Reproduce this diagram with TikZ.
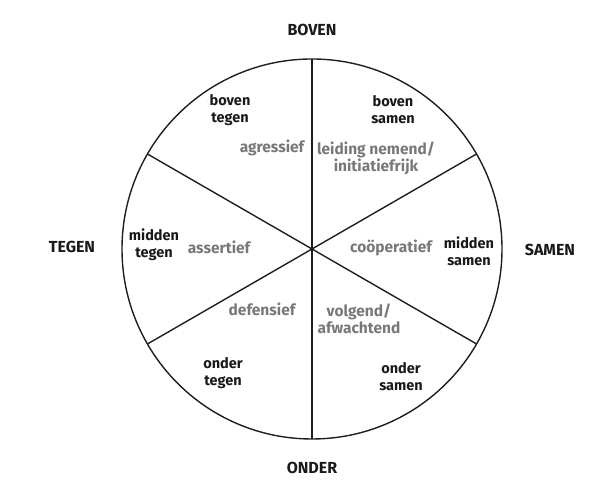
\documentclass[tikz,border=0pt]{standalone}
\usepackage{fontspec}
\setmainfont{Fira Sans}
\usepackage{xcolor}
\usepackage{tikz}
\usetikzlibrary{positioning, calc}
\definecolor{rosegray}{RGB}{120, 120, 120}
\definecolor{roseline}{RGB}{30, 30, 30}

\begin{document}
\begin{tikzpicture}[
  x=1pt, y=1pt,
  every node/.style={font=\fontsize{15}{17}\selectfont, inner sep=0pt},
  axis/.style={font=\fontsize{16}{18}\selectfont\bfseries, text=black!90},
  sector/.style={font=\fontsize{14.5}{17}\selectfont\bfseries, align=center, text=black!90},
  trait/.style={font=\fontsize{15.5}{17}\selectfont\bfseries, align=center, text=rosegray},
  spoke/.style={draw=roseline, line width=1.4pt}
]
  \useasboundingbox (0,0) rectangle (603,489);

  % the rose
  \coordinate (centre) at (312,240);
  \draw[spoke] (centre) circle (190);
  \coordinate (top) at ($(centre)+(90:190)$);
  \coordinate (bottom) at ($(centre)+(270:190)$);
  \coordinate (upleft) at ($(centre)+(150:190)$);
  \coordinate (upright) at ($(centre)+(30:190)$);
  \coordinate (lowleft) at ($(centre)+(210:190)$);
  \coordinate (lowright) at ($(centre)+(330:190)$);
  \draw[spoke] (top) -- (bottom);
  \draw[spoke] (upleft) -- (lowright);
  \draw[spoke] (upright) -- (lowleft);

  % axes
  \node[axis] (boven) at (312,459) {BOVEN};
  \node[axis] (onder) at (312,21) {ONDER};
  \node[axis] (tegen) at (72,242) {TEGEN};
  \node[axis] (samen) at (550,239) {SAMEN};

  % sectors
  \node[sector] (boventegen) at (230,379) {boven\\tegen};
  \node[sector] (bovensamen) at (393,379) {boven\\samen};
  \node[sector] (middentegen) at (154,244) {midden\\tegen};
  \node[sector] (middensamen) at (469,238) {midden\\samen};
  \node[sector] (ondertegen) at (223,116) {onder\\tegen};
  \node[sector] (ondersamen) at (401,112) {onder\\samen};

  % behaviour
  \node[trait] (agressief) at (272,341) {agressief};
  \node[trait] (leiding) at (376,331) {leiding nemend/\\initiatiefrijk};
  \node[trait] (assertief) at (219,242) {assertief};
  \node[trait] (cooperatief) at (391,241) {coöperatief};
  \node[trait] (defensief) at (262,180) {defensief};
  \node[trait] (volgend) at (359,170) {volgend/\\afwachtend};

\end{tikzpicture}
\end{document}
